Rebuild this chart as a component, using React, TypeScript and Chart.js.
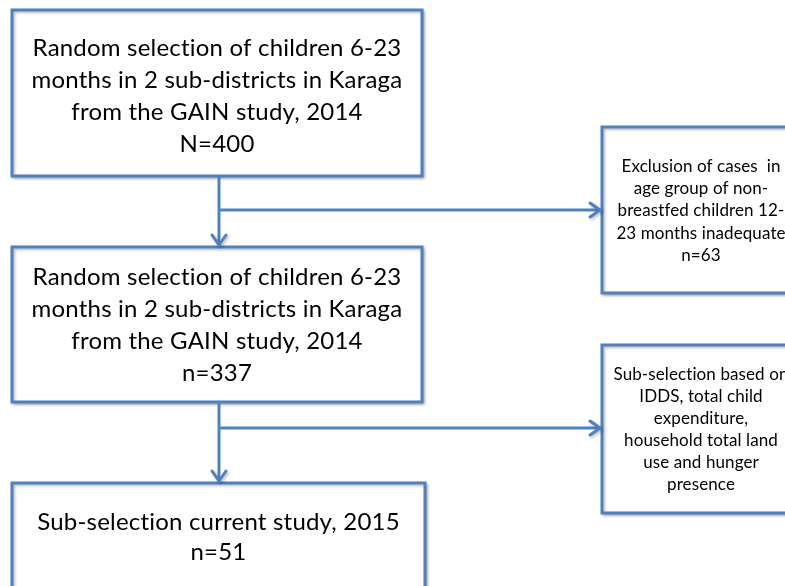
import React, { useEffect, useRef } from "react";
import { Chart, registerables } from "chart.js";

Chart.register(...registerables);

// ---- content (data) ----
const stepTexts: string[][] = [
  ["Random selection of children 6-23", "months in 2 sub-districts in Karaga", "from the GAIN study, 2014"],
  ["Random selection of children 6-23", "months in 2 sub-districts in Karaga", "from the GAIN study, 2014"],
  ["Sub-selection current study, 2015"],
];
const stepCountSymbols = ["N", "n", "n"];
const stepCounts = [400, 337, 51];

const sideTexts: string[][] = [
  ["Exclusion of cases  in", "age group of non-", "breastfed children 12-", "23 months inadequate"],
  ["Sub-selection based on", "IDDS, total child", "expenditure,", "household total land", "use and hunger", "presence"],
];
const sideCounts: (number | null)[] = [63, null];

// ---- layout (chart units on a 785 x 586 plane) ----
const MAIN_BOX = [
  { x0: 12, y0: 10, x1: 422, y1: 176, cy: 96, lh: 32 },
  { x0: 12, y0: 247, x1: 422, y1: 402, cy: 325, lh: 32 },
  { x0: 12, y0: 483, x1: 425, y1: 620, cy: 537, lh: 30 },
];
const SIDE_BOX = [
  { x0: 602, y0: 127, x1: 800, y1: 293, cy: 211, lh: 22.2 },
  { x0: 602, y0: 345, x1: 800, y1: 513, cy: 430, lh: 22 },
];
const TRUNK_X = 219;
const CONNECTORS = [
  { pts: [{ x: TRUNK_X, y: 176 }, { x: TRUNK_X, y: 245 }], head: "down" },
  { pts: [{ x: TRUNK_X, y: 210 }, { x: 600, y: 210 }], head: "right" },
  { pts: [{ x: TRUNK_X, y: 402 }, { x: TRUNK_X, y: 481 }], head: "down" },
  { pts: [{ x: TRUNK_X, y: 428 }, { x: 600, y: 428 }], head: "right" },
];

const BLUE = "#4F81BD";
const FONT = "Lato, 'Open Sans', 'DejaVu Sans', sans-serif";

function setShadow(ctx: CanvasRenderingContext2D) {
  ctx.shadowColor = "rgba(0,0,0,0.28)";
  ctx.shadowBlur = 3;
  ctx.shadowOffsetX = 1.5;
  ctx.shadowOffsetY = 1.5;
}

const flowPlugin = {
  id: "flow",
  beforeDatasetsDraw(chart: any) {
    const ctx: CanvasRenderingContext2D = chart.ctx;
    const xs = chart.scales.x;
    const ys = chart.scales.y;
    const drawBox = (b: any, lines: string[], size: number, spacing: string) => {
      const x0 = xs.getPixelForValue(b.x0);
      const x1 = xs.getPixelForValue(b.x1);
      const y0 = ys.getPixelForValue(b.y0);
      const y1 = ys.getPixelForValue(b.y1);
      ctx.save();
      setShadow(ctx);
      ctx.fillStyle = "#ffffff";
      ctx.fillRect(x0, y0, x1 - x0, y1 - y0);
      ctx.restore();
      ctx.save();
      setShadow(ctx);
      ctx.strokeStyle = BLUE;
      ctx.lineWidth = 3;
      ctx.strokeRect(x0, y0, x1 - x0, y1 - y0);
      ctx.restore();
      ctx.save();
      ctx.fillStyle = "#000000";
      ctx.font = `${size}px ${FONT}`;
      (ctx as any).letterSpacing = spacing;
      ctx.textAlign = "center";
      ctx.textBaseline = "middle";
      const cx = (x0 + x1) / 2;
      const n = lines.length;
      const cy = ys.getPixelForValue(b.cy);
      lines.forEach((t, i) => {
        ctx.fillText(t, cx, cy + (i - (n - 1) / 2) * b.lh);
      });
      ctx.restore();
    };
    MAIN_BOX.forEach((b, i) => {
      const lines = [...stepTexts[i], `${stepCountSymbols[i]}=${stepCounts[i]}`];
      drawBox(b, lines, 24, "0.2px");
    });
    SIDE_BOX.forEach((b, i) => {
      const lines = [...sideTexts[i]];
      if (sideCounts[i] !== null) lines.push(`n=${sideCounts[i]}`);
      drawBox(b, lines, 17, "0.1px");
    });
  },
  afterDatasetsDraw(chart: any) {
    const ctx: CanvasRenderingContext2D = chart.ctx;
    const xs = chart.scales.x;
    const ys = chart.scales.y;
    ctx.save();
    setShadow(ctx);
    ctx.strokeStyle = BLUE;
    ctx.lineWidth = 3;
    ctx.lineCap = "round";
    ctx.lineJoin = "round";
    CONNECTORS.forEach((c) => {
      const end = c.pts[c.pts.length - 1];
      const px = xs.getPixelForValue(end.x);
      const py = ys.getPixelForValue(end.y);
      ctx.beginPath();
      if (c.head === "down") {
        ctx.moveTo(px - 7, py - 10);
        ctx.lineTo(px, py);
        ctx.lineTo(px + 7, py - 10);
      } else {
        ctx.moveTo(px - 10, py - 7);
        ctx.lineTo(px, py);
        ctx.lineTo(px - 10, py + 7);
      }
      ctx.stroke();
    });
    ctx.restore();
  },
};

export default function App() {
  const ref = useRef<HTMLCanvasElement | null>(null);
  useEffect(() => {
    document.body.style.margin = "0";
    const canvas = ref.current!;
    const chart = new Chart(canvas, {
      type: "scatter",
      data: {
        datasets: CONNECTORS.map((c) => ({
          data: c.pts,
          showLine: true,
          borderColor: BLUE,
          borderWidth: 3,
          pointRadius: 0,
          fill: false,
        })),
      },
      options: {
        animation: false,
        responsive: false,
        maintainAspectRatio: false,
        layout: { padding: 0 },
        plugins: { legend: { display: false }, tooltip: { enabled: false } },
        events: [],
        scales: {
          x: { type: "linear", min: 0, max: 785, display: false },
          y: { type: "linear", min: 0, max: 586, reverse: true, display: false },
        },
      },
      plugins: [flowPlugin],
    });
    return () => chart.destroy();
  }, []);
  return (
    <div style={{ position: "absolute", left: 0, top: 0, width: 785, height: 586, background: "#fff" }}>
      <canvas ref={ref} width={785} height={586} style={{ width: 785, height: 586 }} />
    </div>
  );
}
